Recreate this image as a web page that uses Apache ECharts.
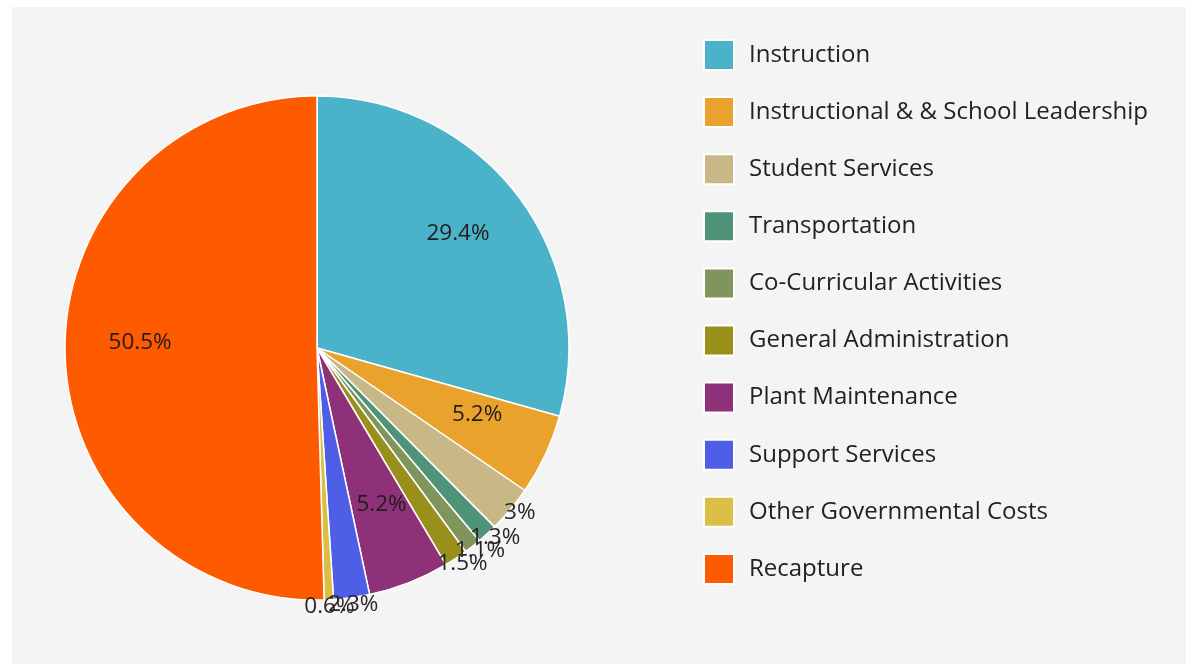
<!DOCTYPE html>
<html>
<head>
<meta charset="utf-8">
<script src="https://cdn.jsdelivr.net/npm/echarts@6/dist/echarts.min.js"></script>
<style>
html,body{margin:0;padding:0;background:#ffffff;width:1186px;height:664px;overflow:hidden;}
#chart{position:absolute;left:12px;top:7px;width:1174px;height:657px;background:#f4f4f4;}
</style>
</head>
<body>
<div id="chart"></div>
<script>
const categories = ['Instruction','Instructional & & School Leadership','Student Services','Transportation','Co-Curricular Activities','General Administration','Plant Maintenance','Support Services','Other Governmental Costs','Recapture'];
const values = [29.4, 5.2, 3, 1.3, 1.1, 1.5, 5.2, 2.3, 0.6, 50.5];
const colors = ['#4ab2c9','#e9a22c','#c8b888','#4f9478','#7f955c','#98901b','#8e3179','#4f5ee6','#dbbe46','#fe5a00'];
const labelTexts = ['29.4%','5.2%','3%','1.3%','1.1%','1.5%','5.2%','2.3%','0.6%','50.5%'];
const insideSet = [true,true,false,false,false,false,true,false,false,true];

const cx = 305, cy = 341, R = 252;
const font = '"Open Sans", "Noto Sans", sans-serif';

const chart = echarts.init(document.getElementById('chart'));
const mainData = categories.map((n,i)=>({name:n, value:values[i], itemStyle:{color:colors[i]}}));
const innerLabelData = categories.map((n,i)=>({name:n, value:values[i], label:{show:insideSet[i]}}));
const outerLabelData = categories.map((n,i)=>({name:n, value:values[i], label:{show:!insideSet[i]}}));
chart.setOption({
  backgroundColor:'#f4f4f4',
  animation:false,
  color: colors,
  legend:{
    orient:'vertical', left:691, top:32, padding:0,
    icon:'rect', itemWidth:30, itemHeight:30, itemGap:25.1,
    data: categories,
    textStyle:{fontFamily:font, fontSize:24, lineHeight:30, color:'#222', padding:[0,0,0,10]}
  },
  series:[
    {
      type:'pie', center:[cx,cy], radius:[0,R], startAngle:90, clockwise:true,
      data: mainData, label:{show:false}, labelLine:{show:false},
      itemStyle:{borderColor:'#ffffff', borderWidth:1.5},
      emphasis:{disabled:true}, silent:true
    },
    {
      type:'pie', center:[cx,cy], radius:[R*0.38,R], startAngle:90, clockwise:true,
      data: innerLabelData, silent:true, legendHoverLink:false,
      avoidLabelOverlap:false, labelLayout:{hideOverlap:false, dy:-8},
      itemStyle:{color:'rgba(0,0,0,0)', borderWidth:0},
      label:{position:'inside', fontFamily:font, fontSize:22.5, color:'#241c1c',
        formatter:(p)=>labelTexts[p.dataIndex]},
      labelLine:{show:false}, emphasis:{disabled:true}
    },
    {
      type:'pie', center:[cx,cy], radius:[R,R*1.072], startAngle:90, clockwise:true,
      data: outerLabelData, silent:true, legendHoverLink:false,
      avoidLabelOverlap:false, labelLayout:{hideOverlap:false, dy:-5}, minShowLabelAngle:0,
      itemStyle:{color:'rgba(0,0,0,0)', borderWidth:0},
      label:{position:'inside', fontFamily:font, fontSize:22.5, color:'#262626',
        formatter:(p)=>labelTexts[p.dataIndex]},
      labelLine:{show:false}, emphasis:{disabled:true}
    }
  ]
});
</script>
</body>
</html>
